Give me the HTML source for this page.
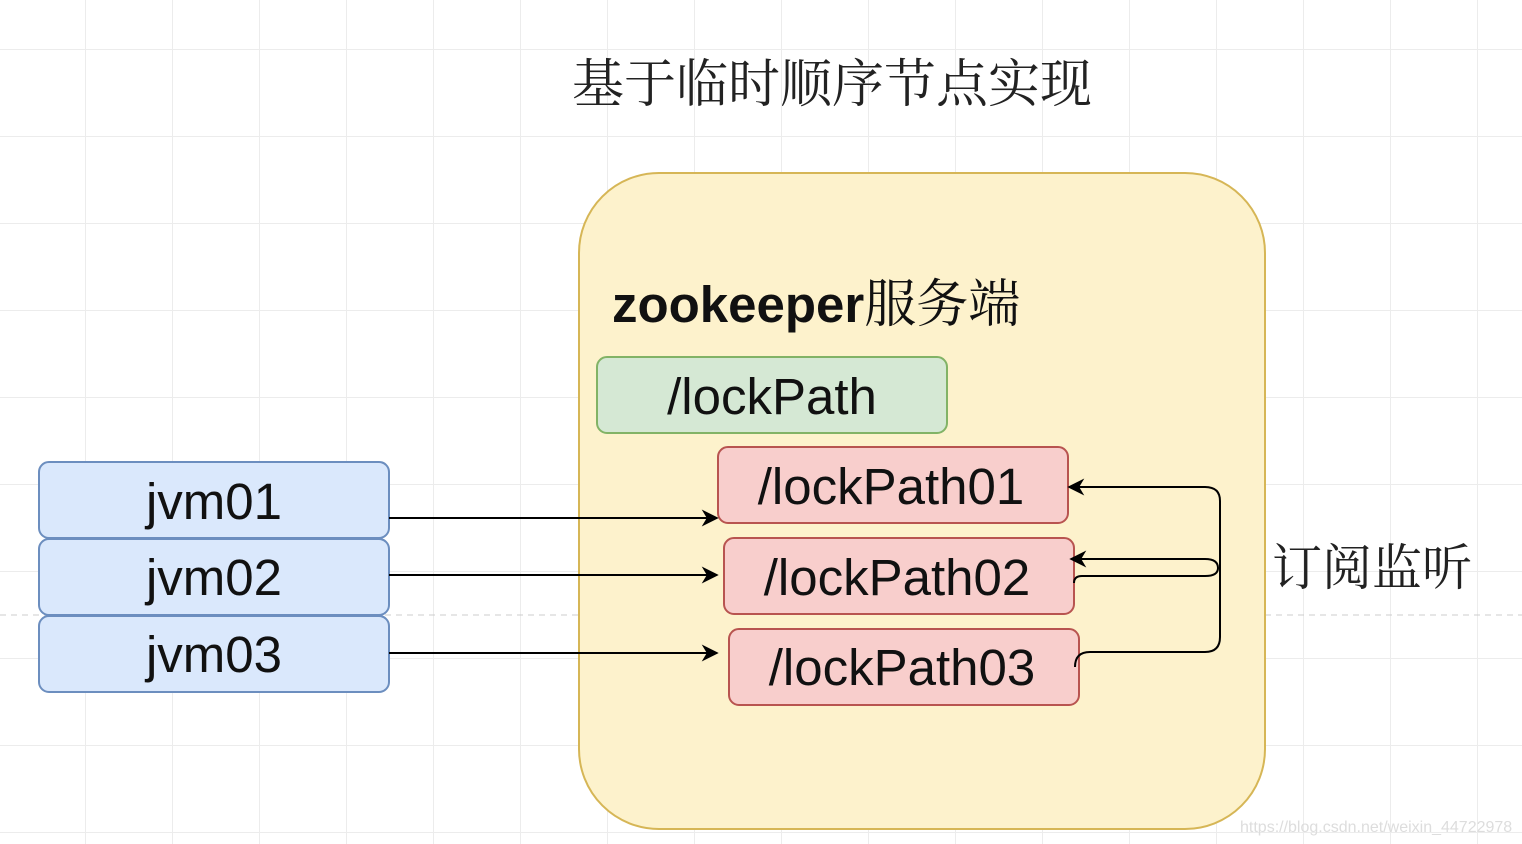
<!DOCTYPE html>
<html><head><meta charset="utf-8"><style>
html,body{margin:0;padding:0;background:#fff;}
svg{display:block}
.s{font-family:"Liberation Sans","Noto Sans CJK SC",sans-serif;}
.c{font-family:"Noto Serif CJK SC","Liberation Serif",serif;}
</style></head><body>
<svg width="1522" height="844" viewBox="0 0 1522 844" xmlns="http://www.w3.org/2000/svg">
<defs>
<pattern id="g" x="85" y="49" width="87" height="87" patternUnits="userSpaceOnUse">
<path d="M0 0H87M0 0V87" stroke="#ececec" stroke-width="2" fill="none"/>
</pattern>
<marker id="a" viewBox="0 0 10 10" refX="9" refY="5" markerWidth="17" markerHeight="17" orient="auto-start-reverse" markerUnits="userSpaceOnUse">
<path d="M0 0L10 5L0 10L3 5Z" fill="#000"/>
</marker>
</defs>
<rect width="1522" height="844" fill="#fff"/>
<rect width="1522" height="844" fill="url(#g)"/>
<line x1="0" y1="615" x2="1522" y2="615" stroke="#ccc" stroke-dasharray="6,5"/>
<text class="c" x="832" y="102" font-size="52" text-anchor="middle" fill="#222">基于临时顺序节点实现</text>
<rect x="579" y="173" width="686" height="656" rx="80" fill="#fdf2cc" stroke="#d6b656" stroke-width="2"/>
<text class="s" x="612" y="322" font-size="51" font-weight="bold" fill="#111">zookeeper<tspan class="c" font-weight="normal" font-size="52">服务端</tspan></text>
<rect x="597" y="357" width="350" height="76" rx="10" fill="#d5e8d4" stroke="#82b366" stroke-width="2"/>
<text class="s" x="772" y="414" font-size="51" text-anchor="middle" fill="#111">/lockPath</text>
<rect x="718" y="447" width="350" height="76" rx="10" fill="#f8cecc" stroke="#b85450" stroke-width="2"/>
<text class="s" x="891" y="504" font-size="51" text-anchor="middle" fill="#111">/lockPath01</text>
<rect x="724" y="538" width="350" height="76" rx="10" fill="#f8cecc" stroke="#b85450" stroke-width="2"/>
<text class="s" x="897" y="595" font-size="51" text-anchor="middle" fill="#111">/lockPath02</text>
<rect x="729" y="629" width="350" height="76" rx="10" fill="#f8cecc" stroke="#b85450" stroke-width="2"/>
<text class="s" x="902" y="685" font-size="51" text-anchor="middle" fill="#111">/lockPath03</text>
<g fill="#dae8fc" stroke="#6c8ebf" stroke-width="2">
<rect x="39" y="462" width="350" height="76" rx="10"/>
<rect x="39" y="539" width="350" height="76" rx="10"/>
<rect x="39" y="616" width="350" height="76" rx="10"/>
</g>
<g class="s" font-size="51" text-anchor="middle" fill="#111">
<text x="214" y="519">jvm01</text>
<text x="214" y="595">jvm02</text>
<text x="214" y="672">jvm03</text>
</g>
<g stroke="#000" stroke-width="2" fill="none">
<line x1="389" y1="518" x2="717" y2="518" marker-end="url(#a)"/>
<line x1="389" y1="575" x2="717" y2="575" marker-end="url(#a)"/>
<line x1="389" y1="653" x2="717" y2="653" marker-end="url(#a)"/>
<path d="M1074 583Q1074 576 1082 576H1205Q1218 576 1218 568Q1218 559 1205 559H1071" marker-end="url(#a)"/>
<path d="M1075 667Q1075 652 1090 652H1205Q1220 652 1220 637V501Q1220 487 1205 487H1069" marker-end="url(#a)"/>
</g>
<text class="c" x="1272" y="585" font-size="50" fill="#222">订阅监听</text>
<text class="s" x="1240" y="832" font-size="16" fill="#ddd">https://blog.csdn.net/weixin_44722978</text>
</svg>
</body></html>
